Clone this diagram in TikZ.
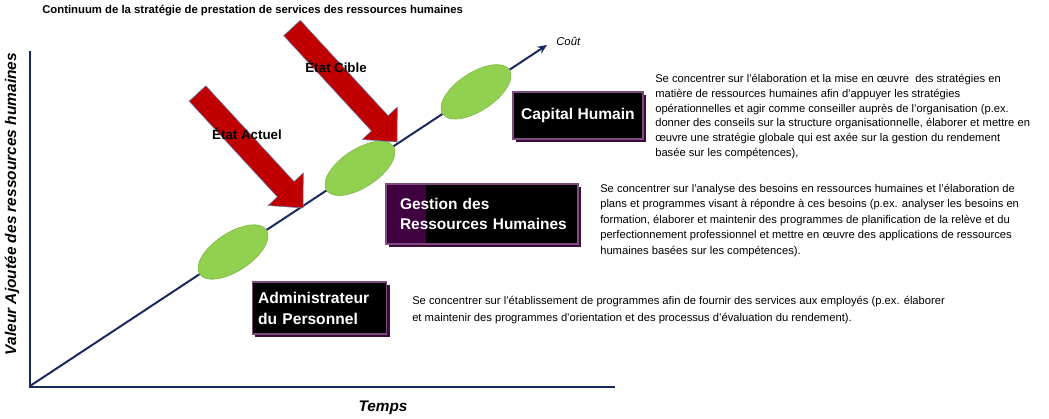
\documentclass[tikz,border=0pt]{standalone}
\usepackage{fontspec}
\setmainfont{Liberation Sans}
\usetikzlibrary{calc,shapes.geometric,arrows.meta,shadows}
\definecolor{navy}{HTML}{1A2A5E}
\definecolor{arrred}{HTML}{C00000}
\definecolor{arredge}{HTML}{5B84B8}
\definecolor{blobgreen}{HTML}{92D050}
\definecolor{blobedge}{HTML}{86BE4E}
\definecolor{boxedge}{HTML}{7E4B7E}
\definecolor{boxshadow}{HTML}{3B0B3B}
\definecolor{boxleft}{HTML}{3F003F}
\tikzset{
  axisline/.style={draw=navy, line width=1pt},
  diagline/.style={draw=navy, line width=1.5pt, -{Stealth[length=7pt,width=6pt]}},
  blob/.style={ellipse, fill=blobgreen, draw=blobedge, line width=0.6pt,
    minimum width=60pt, minimum height=28.5pt, inner sep=0pt},
  rolebox/.style={fill=black, draw=boxedge, line width=0.9pt, text=white,
    font=\fontsize{11.7}{15}\selectfont\bfseries, inner ysep=0pt,
    drop shadow={shadow xshift=2.2pt, shadow yshift=-2.2pt, fill=boxshadow, opacity=1}},
  desc/.style={anchor=north west, inner sep=0pt, align=left, text=black},
  statelabel/.style={font=\fontsize{10}{12}\selectfont\bfseries, inner sep=0pt},
  redarr/.style={fill=arrred, draw=arredge, line width=0.4pt, line join=miter},
}
\newcommand\drawredarrow[2]{%
  \coordinate (#1h) at ($(#2)!0.164!(#1)$);
  \path[redarr] ($(#1)!0.073!90:(#2)$) -- ($(#1h)!0.445!90:(#2)$) --
    ($(#1h)!0.94!90:(#2)$) -- (#2) -- ($(#1h)!0.94!-90:(#2)$) --
    ($(#1h)!0.445!-90:(#2)$) -- ($(#1)!0.073!-90:(#2)$) -- cycle;}
\begin{document}
\begin{tikzpicture}[x=0.75pt,y=-0.75pt]
\useasboundingbox (0,0) rectangle (1049,418);
% axes
\coordinate (ytop) at (30,51);
\coordinate (O) at (30,386);
\coordinate (xend) at (615,387);
\coordinate (cost) at (547,45);
\draw[axisline] (ytop) -- (30,387) -- (xend);
\draw[diagline] (O) -- (cost);
% blobs
\node[blob, rotate=33.4] (e1) at (233,252) {};
\node[blob, rotate=33.4] (e2) at (360,168.3) {};
\node[blob, rotate=33.4] (e3) at (476,91.8) {};
% red arrows
\coordinate (ta) at (197.5,93.5);
\coordinate (pa) at (303,208);
\coordinate (tb) at (292,28);
\coordinate (pb) at (397,142);
\drawredarrow{ta}{pa}
\drawredarrow{tb}{pb}
\node[statelabel] (actuel) at (247,134) {État Actuel};
\node[statelabel] (cible) at (336,67) {État Cible};
% title and axis labels
\node[anchor=west, inner sep=0pt, font=\fontsize{8.5}{10}\selectfont\bfseries] (title) at (42,11)
  {Continuum de la stratégie de prestation de services des ressources humaines};
\node[rotate=90, inner sep=0pt, font=\fontsize{11.6}{13}\selectfont\bfseries\itshape] (ylab) at (12,204)
  {Valeur Ajoutée des ressources humaines};
\node[inner sep=0pt, font=\fontsize{11.5}{13}\selectfont\bfseries\itshape] (xlab) at (383,408) {Temps};
\node[anchor=west, inner sep=0pt, font=\fontsize{8.5}{10}\selectfont\itshape] (coutlab) at (556,41) {Coût};
% role boxes
\node[rolebox, minimum width=97.5pt, minimum height=35.25pt, align=center] (capital) at (578,115.5)
  {Capital Humain};
\node[rolebox, minimum width=144pt, minimum height=45pt, align=left, text width=135pt, inner xsep=4.5pt,
  font=\fontsize{11.6}{15}\selectfont\bfseries,
  path picture={\fill[boxleft] (path picture bounding box.north west) rectangle
     ($(path picture bounding box.south west)+(40,0)$);}] (gestion) at (482,214)
  {\hspace*{6pt}\mbox{Gestion des}\\\hspace*{6pt}\mbox{Ressources Humaines}};
\node[rolebox, minimum width=96.75pt, minimum height=39pt, align=left, text width=92pt, inner xsep=4.5pt,
  font=\fontsize{11.7}{15.8}\selectfont\bfseries] (admin) at (319.5,308)
  {Administrateur\\du Personnel};
% descriptions
\node[desc, font=\fontsize{8.4}{11.1}\selectfont] (desccap) at (655,74)
  {Se concentrer sur l’élaboration et la mise en œuvre\ \ des stratégies en\\
   matière de ressources humaines afin d’appuyer les stratégies\\
   opérationnelles et agir comme conseiller auprès de l’organisation (p.ex.\\
   donner des conseils sur la structure organisationnelle, élaborer et mettre en\\
   œuvre une stratégie globale qui est axée sur la gestion du rendement\\
   basée sur les compétences),};
\node[desc, font=\fontsize{8.4}{11.6}\selectfont] (descges) at (600,184)
  {Se concentrer sur l’analyse des besoins en ressources humaines et l’élaboration de\\
   plans et programmes visant à répondre à ces besoins (p.ex. analyser les besoins en\\
   formation, élaborer et maintenir des programmes de planification de la relève et du\\
   perfectionnement professionnel et mettre en œuvre des applications de ressources\\
   humaines basées sur les compétences).};
\node[desc, font=\fontsize{8.4}{12.5}\selectfont] (descadm) at (412,296)
  {Se concentrer sur l’établissement de programmes afin de fournir des services aux employés (p.ex. élaborer\\
   et maintenir des programmes d’orientation et des processus d’évaluation du rendement).};
\end{tikzpicture}
\end{document}
